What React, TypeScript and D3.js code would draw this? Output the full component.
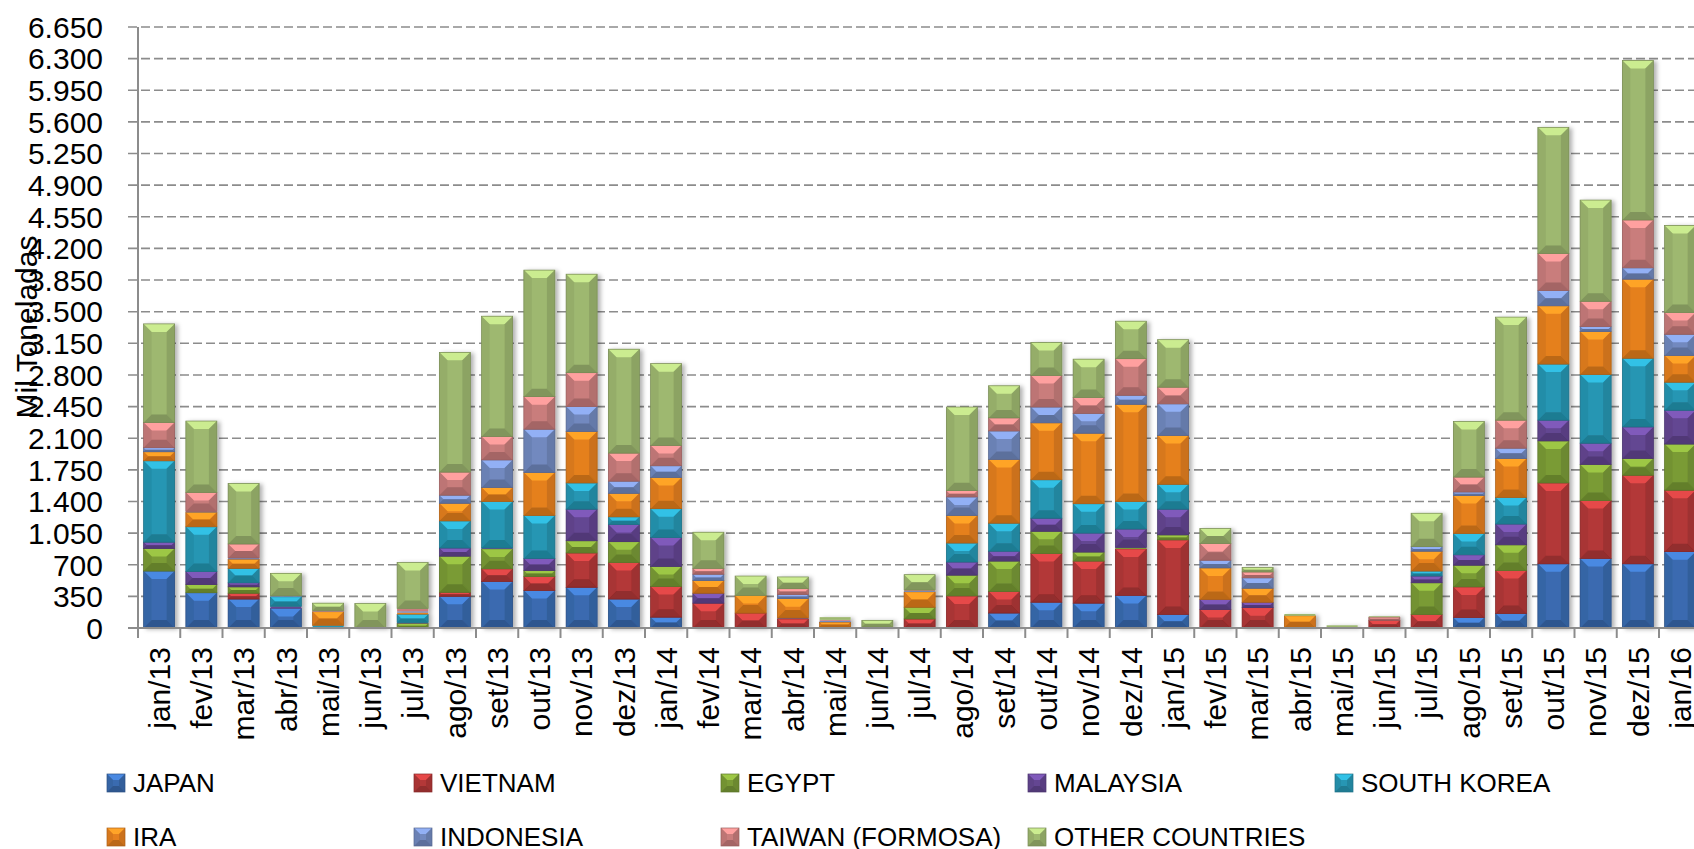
import React from 'react';
import * as d3 from 'd3';

// months on the x axis
const months = [
  'jan/13', 'fev/13', 'mar/13', 'abr/13', 'mai/13', 'jun/13', 'jul/13', 'ago/13', 'set/13', 'out/13', 'nov/13', 'dez/13',
  'jan/14', 'fev/14', 'mar/14', 'abr/14', 'mai/14', 'jun/14', 'jul/14', 'ago/14', 'set/14', 'out/14', 'nov/14', 'dez/14',
  'jan/15', 'fev/15', 'mar/15', 'abr/15', 'mai/15', 'jun/15', 'jul/15', 'ago/15', 'set/15', 'out/15', 'nov/15', 'dez/15',
  'jan/16',
];

// series, bottom to top of the stack (mil toneladas)
const japan = [630, 390, 320, 215, 0, 0, 0, 350, 515, 415, 450, 320, 120, 0, 0, 0, 0, 0, 0, 0, 165, 285, 275, 360, 150, 0, 0, 0, 0, 0, 0, 115, 160, 710, 770, 710, 845];
const vietnam = [0, 0, 65, 0, 0, 0, 0, 45, 140, 155, 380, 405, 340, 275, 165, 100, 10, 0, 100, 355, 240, 540, 465, 515, 825, 205, 225, 5, 0, 85, 150, 340, 475, 895, 640, 980, 680];
const egypt = [250, 90, 70, 0, 10, 0, 50, 400, 220, 65, 135, 230, 220, 0, 0, 0, 0, 0, 130, 230, 335, 245, 100, 15, 55, 0, 0, 0, 0, 0, 350, 240, 285, 465, 400, 185, 510];
const malaysia = [70, 145, 45, 25, 0, 0, 10, 90, 10, 135, 350, 190, 320, 110, 0, 10, 0, 0, 0, 145, 110, 145, 210, 205, 285, 110, 60, 0, 0, 0, 75, 115, 230, 230, 235, 350, 375];
const southKorea = [900, 495, 160, 105, 20, 0, 90, 300, 515, 475, 290, 85, 320, 0, 0, 0, 0, 0, 0, 210, 310, 425, 325, 305, 275, 0, 0, 0, 0, 0, 55, 235, 295, 620, 760, 760, 310];
const ira = [100, 160, 100, 0, 150, 0, 20, 195, 155, 475, 570, 260, 345, 140, 195, 215, 55, 10, 170, 305, 705, 630, 780, 1075, 540, 350, 155, 130, 0, 0, 220, 420, 430, 645, 475, 875, 295];
const indonesia = [45, 10, 15, 10, 5, 0, 15, 90, 305, 480, 275, 135, 130, 70, 0, 45, 15, 0, 10, 205, 315, 175, 220, 100, 350, 85, 115, 0, 0, 0, 50, 40, 115, 170, 55, 125, 235];
const taiwan = [280, 210, 155, 0, 10, 0, 30, 255, 260, 360, 375, 310, 225, 65, 0, 65, 10, 0, 10, 70, 145, 350, 175, 405, 185, 185, 65, 0, 0, 35, 0, 165, 310, 410, 280, 530, 240];
const other = [1090, 790, 670, 250, 80, 270, 510, 1325, 1330, 1400, 1090, 1150, 905, 400, 215, 130, 30, 75, 170, 925, 355, 365, 425, 415, 525, 165, 50, 20, 30, 10, 370, 615, 1140, 1395, 1120, 1765, 965];

const seriesNames = ['JAPAN', 'VIETNAM', 'EGYPT', 'MALAYSIA', 'SOUTH KOREA', 'IRA', 'INDONESIA', 'TAIWAN (FORMOSA)', 'OTHER COUNTRIES'];
const seriesValues = [japan, vietnam, egypt, malaysia, southKorea, ira, indonesia, taiwan, other];
const colors = ['#3A6BB0', '#B33838', '#7A9B36', '#644692', '#2796B3', '#E5801F', '#7289BF', '#C97D7C', '#9EB870'];

const yTicks = d3.range(0, 6651, 350);

const W = 1694, H = 849;
const plotLeft = 138, plotTop = 27, baseY = 628;
const band = 42.25;

const fmt = (v: number) => d3.format(',')(v).replace(/,/g, '.');

function Bevel({ x, y, w, h, color }: { x: number; y: number; w: number; h: number; color: string }) {
  const c = d3.color(color)!;
  const light = c.brighter(0.7).formatHex();
  const dark1 = c.darker(0.25).formatHex();
  const dark2 = c.darker(0.5).formatHex();
  const dark3 = c.darker(0.8).formatHex();
  if (h < 3) {
    return <rect x={x} y={y} width={w} height={h} fill={color} />;
  }
  const d = Math.min(8, h / 2, w / 3);
  return (
    <g>
      <rect x={x} y={y} width={w} height={h} fill={color} />
      <polygon points={`${x},${y} ${x + w},${y} ${x + w - d},${y + d} ${x + d},${y + d}`} fill={light} />
      <polygon points={`${x},${y} ${x + d},${y + d} ${x + d},${y + h - d} ${x},${y + h}`} fill={dark1} opacity={0.7} />
      <polygon points={`${x + w},${y} ${x + w - d},${y + d} ${x + w - d},${y + h - d} ${x + w},${y + h}`} fill={dark2} opacity={0.7} />
      <polygon points={`${x},${y + h} ${x + d},${y + h - d} ${x + w - d},${y + h - d} ${x + w},${y + h}`} fill={dark3} opacity={0.75} />
      <rect x={x} y={y} width={w} height={h} fill="none" stroke={dark3} strokeWidth={0.7} />
    </g>
  );
}

export default function App() {
  const table = months.map((m, i) => {
    const row: Record<string, any> = { month: m };
    seriesNames.forEach((s, k) => { row[s] = seriesValues[k][i]; });
    return row;
  });
  const stacked = d3.stack<any>().keys(seriesNames)(table);

  const x = d3.scaleBand().domain(months).range([plotLeft, plotLeft + band * months.length]).paddingInner(0.265).paddingOuter(0.1325);
  const y = d3.scaleLinear().domain([0, 6650]).range([baseY, plotTop]);
  const bw = x.bandwidth();

  return (
    <svg width={W} height={H} style={{ position: 'absolute', left: 0, top: 0, background: '#fff' }}
      fontFamily="'Liberation Sans', Arial, sans-serif">
      <defs>
        <filter id="shadow" x="-20%" y="-5%" width="150%" height="110%">
          <feDropShadow dx="3" dy="1" stdDeviation="2" floodColor="#000" floodOpacity="0.3" />
        </filter>
      </defs>

      {/* gridlines */}
      {yTicks.filter(t => t > 0).map(t => (
        <line key={t} x1={plotLeft - 10} x2={W} y1={y(t)} y2={y(t)} stroke="#8c8c8c" strokeWidth={1.6} strokeDasharray="9 4" />
      ))}

      {/* y tick labels */}
      {yTicks.map(t => (
        <text key={t} x={103} y={y(t)} dy="0.36em" textAnchor="end" fontSize={30} fill="#000">{fmt(t)}</text>
      ))}

      {/* bars */}
      <g filter="url(#shadow)">
        {months.map((m, i) => (
          <g key={m}>
            {stacked.map((s, k) => {
              const [y0, y1] = s[i];
              if (y1 - y0 <= 0) return null;
              const top = y(y1), bottom = y(y0);
              return <Bevel key={k} x={x(m)!} y={top} w={bw} h={bottom - top} color={colors[k]} />;
            })}
          </g>
        ))}
      </g>

      {/* axes */}
      <line x1={plotLeft - 10} x2={W} y1={baseY} y2={baseY} stroke="#8c8c8c" strokeWidth={2} />
      <line x1={plotLeft} x2={plotLeft} y1={plotTop} y2={baseY + 10} stroke="#8c8c8c" strokeWidth={2} />
      {months.map((m, i) => (
        <line key={m} x1={plotLeft + band * (i + 1)} x2={plotLeft + band * (i + 1)} y1={baseY} y2={baseY + 10} stroke="#8c8c8c" strokeWidth={2} />
      ))}

      {/* x labels */}
      {months.map(m => (
        <text key={m} transform={`translate(${x(m)! + bw / 2},647) rotate(-90)`} dy="0.36em" textAnchor="end" fontSize={30} fill="#000">{m}</text>
      ))}

      {/* y title */}
      <text transform="translate(37,327) rotate(-90)" textAnchor="middle" fontSize={30} fill="#000">Mil Toneladas</text>

      {/* legend */}
      {seriesNames.map((s, k) => {
        const col = k < 5 ? k : k - 5;
        const row = k < 5 ? 0 : 1;
        const lx = 107 + col * 307;
        const ly = row === 0 ? 774 : 828;
        return (
          <g key={s}>
            <Bevel x={lx} y={ly} w={18} h={18} color={colors[k]} />
            <text x={lx + 26} y={ly + 18} fontSize={26} fill="#000">{s}</text>
          </g>
        );
      })}
    </svg>
  );
}
